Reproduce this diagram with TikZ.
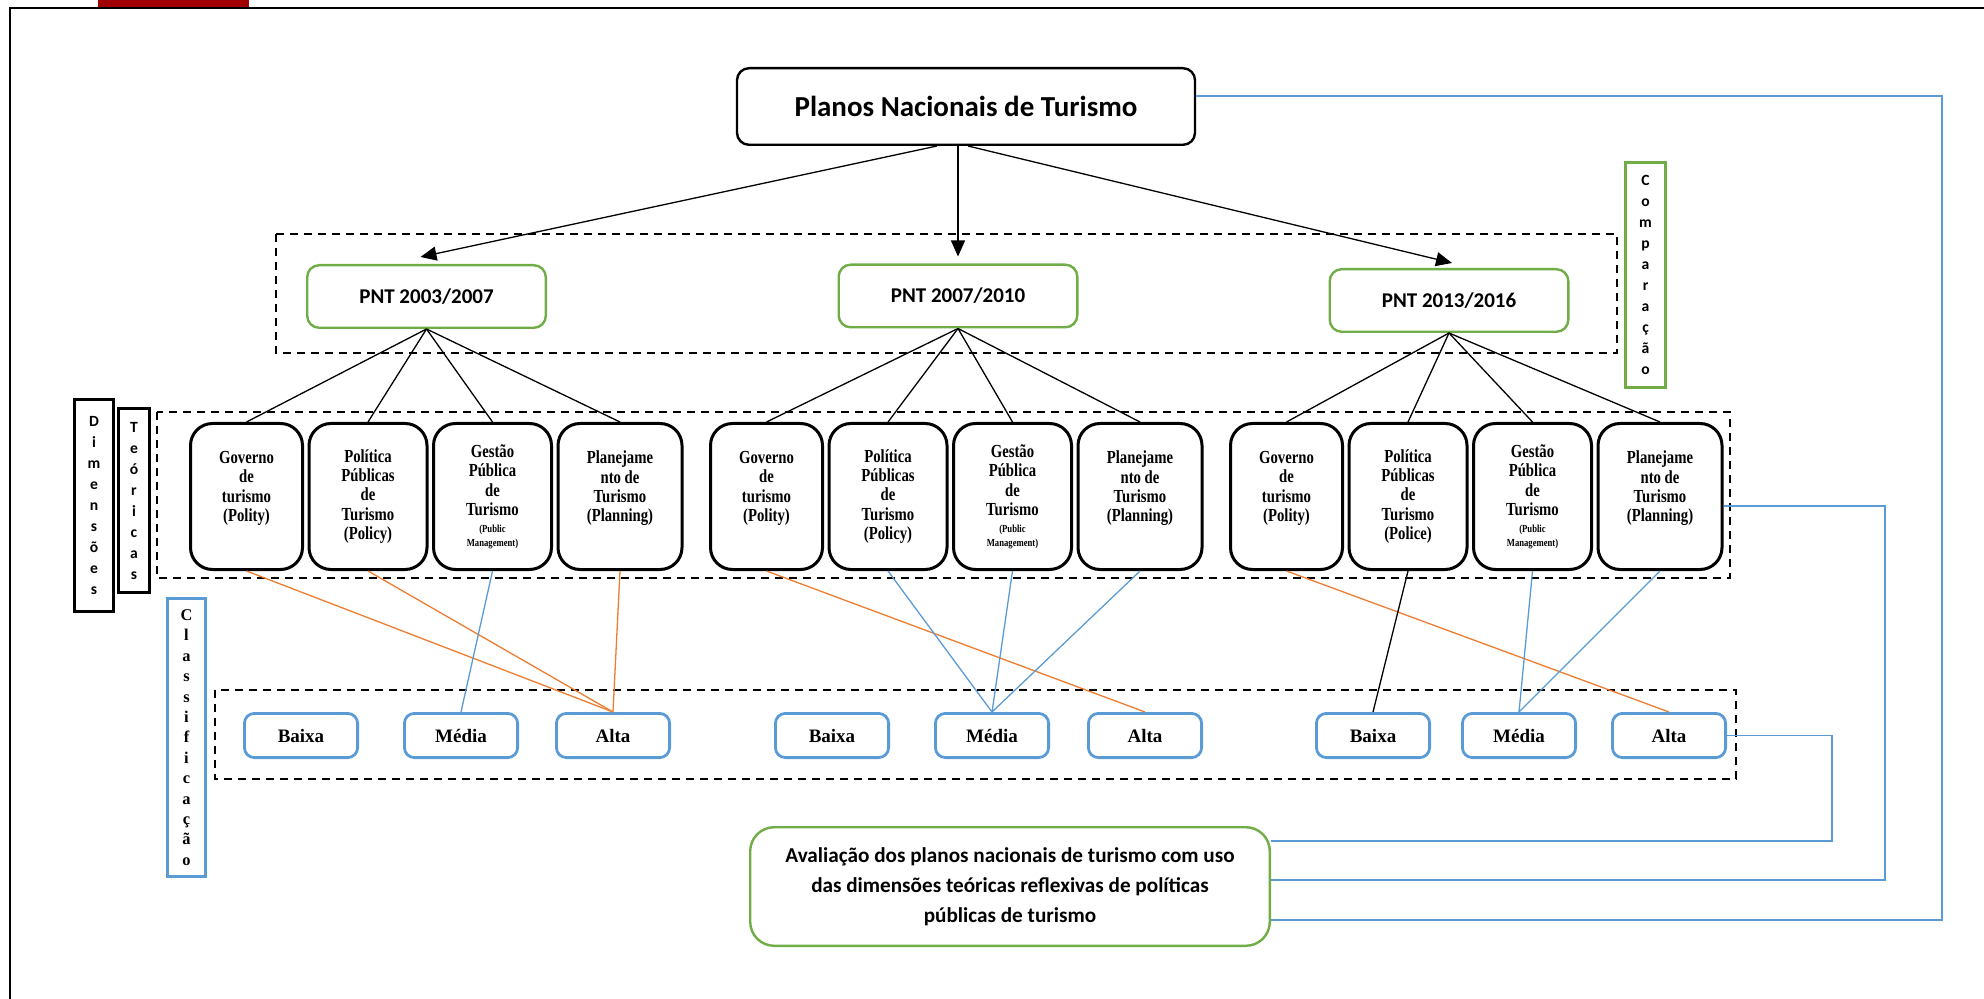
\documentclass[tikz,border=0pt]{standalone}
\usepackage{fontspec}
\setmainfont{Liberation Serif}
\newfontfamily\calibri{Carlito}
\newfontfamily\estreita[FakeStretch=0.8]{Liberation Serif}
\usetikzlibrary{arrows.meta,positioning}
\definecolor{verde}{HTML}{70AD47}
\definecolor{azul}{HTML}{5B9BD5}
\definecolor{laranja}{HTML}{ED7D31}
\definecolor{vinho}{HTML}{A00000}
\newcommand{\gestao}{\fontsize{5.4}{6.5}\selectfont}
\tikzset{
    plano/.style={draw, rounded corners=6pt, line width=1.2pt,
            minimum width=229pt, minimum height=38.3pt,
            font=\calibri\bfseries\fontsize{14.5}{16}\selectfont},
    pnt/.style={draw=verde, rounded corners=6pt, line width=1.2pt,
            minimum width=119.3pt, minimum height=31.3pt,
            font=\calibri\bfseries\fontsize{10.5}{12}\selectfont},
    dimensao/.style={draw, rounded corners=11pt, line width=1.5pt,
            minimum height=73pt, align=center, inner sep=1pt,
            font=\estreita\bfseries\fontsize{9.2}{9.7}\selectfont},
    quatro/.style={text depth=10pt},
    nivel/.style={draw=azul, rounded corners=5pt, line width=1.4pt,
            minimum width=56.6pt, minimum height=22.1pt,
            font=\bfseries\fontsize{9.5}{11}\selectfont},
    avaliacao/.style={draw=verde, rounded corners=12pt, line width=1.2pt,
            minimum width=259.8pt, minimum height=59.3pt, align=center,
            font=\calibri\bfseries\fontsize{10.6}{15}\selectfont},
    vertical/.style={line width=1.5pt, align=center, inner sep=0pt,
            font=\calibri\bfseries\fontsize{7.8}{10.5}\selectfont},
    tracejado/.style={dash pattern=on 4pt off 3pt, line width=1pt},
    ligacao/.style={line width=0.65pt},
    seta/.style={line width=0.65pt, -{Triangle[length=8pt,width=7pt]}},
}

\begin{document}
\begin{tikzpicture}[x=0.5pt,y=-0.5pt]
\useasboundingbox (0,0) rectangle (1984,999);
\fill[vinho] (98,0) rectangle (249,8);
\draw[line width=1pt] (10,999) -- (10,8) -- (1984,8);

\node[plano] (planos) at (966,106.5) {Planos Nacionais de Turismo};

\draw[tracejado] (276,234) rectangle (1617,353);
\node[pnt] (pnt1) at (426.5,296.5) {PNT 2003/2007};
\node[pnt] (pnt2) at (958,296) {PNT 2007/2010};
\node[pnt] (pnt3) at (1449,300.5) {PNT 2013/2016};
\node[vertical, draw=verde, minimum width=20pt, minimum height=112.5pt] (comp) at (1645.5,275)
    {C\\o\\m\\p\\a\\r\\a\\ç\\ã\\o};

\draw[seta] ([xshift=-14.5pt]planos.south) -- ([xshift=-3pt,yshift=3.5pt]pnt1.north);
\draw[seta] ([xshift=-4pt]planos.south) -- ([yshift=3.5pt]pnt2.north);
\draw[seta] ([xshift=1pt]planos.south) -- ([xshift=1.5pt,yshift=2.5pt]pnt3.north);

\node[vertical, draw, minimum width=19.5pt, minimum height=106pt] (dim) at (94,505.5)
    {D\\i\\m\\e\\n\\s\\õ\\e\\s};
\node[vertical, draw, minimum width=15.5pt, minimum height=92pt] (teo) at (134,500.5)
    {T\\e\\ó\\r\\i\\c\\a\\s};
\draw[tracejado] (157,412) rectangle (1730,578);

\node[dimensao, quatro, minimum width=56pt, anchor=west] (gov1) at (189,496.5) {Governo\\de\\turismo\\(Polity)};
\node[dimensao, minimum width=59pt, right=1.75pt of gov1] (pol1) {Política\\Públicas\\de\\Turismo\\(Policy)};
\node[dimensao, minimum width=59pt, right=1.75pt of pol1] (ges1) {Gestão\\Pública\\de\\Turismo\\[-1pt]{\gestao (Public}\\[-3pt]{\gestao Management)}};
\node[dimensao, quatro, minimum width=62pt, right=1.75pt of ges1] (pla1) {Planejame\\nto de\\Turismo\\(Planning)};

\node[dimensao, quatro, minimum width=56pt, anchor=west] (gov2) at (709,496.5) {Governo\\de\\turismo\\(Polity)};
\node[dimensao, minimum width=59pt, right=1.75pt of gov2] (pol2) {Política\\Públicas\\de\\Turismo\\(Policy)};
\node[dimensao, minimum width=59pt, right=1.75pt of pol2] (ges2) {Gestão\\Pública\\de\\Turismo\\[-1pt]{\gestao (Public}\\[-3pt]{\gestao Management)}};
\node[dimensao, quatro, minimum width=62pt, right=1.75pt of ges2] (pla2) {Planejame\\nto de\\Turismo\\(Planning)};

\node[dimensao, quatro, minimum width=56pt, anchor=west] (gov3) at (1229,496.5) {Governo\\de\\turismo\\(Polity)};
\node[dimensao, minimum width=59pt, right=1.75pt of gov3] (pol3) {Política\\Públicas\\de\\Turismo\\(Police)};
\node[dimensao, minimum width=59pt, right=1.75pt of pol3] (ges3) {Gestão\\Pública\\de\\Turismo\\[-1pt]{\gestao (Public}\\[-3pt]{\gestao Management)}};
\node[dimensao, quatro, minimum width=62pt, right=1.75pt of ges3] (pla3) {Planejame\\nto de\\Turismo\\(Planning)};

\draw[ligacao] (pnt1.south) -- (gov1.north);
\draw[ligacao] (pnt1.south) -- (pol1.north);
\draw[ligacao] (pnt1.south) -- (ges1.north);
\draw[ligacao] (pnt1.south) -- (pla1.north);
\draw[ligacao] (pnt2.south) -- (gov2.north);
\draw[ligacao] (pnt2.south) -- (pol2.north);
\draw[ligacao] (pnt2.south) -- (ges2.north);
\draw[ligacao] (pnt2.south) -- (pla2.north);
\draw[ligacao] (pnt3.south) -- (gov3.north);
\draw[ligacao] (pnt3.south) -- (pol3.north);
\draw[ligacao] (pnt3.south) -- (ges3.north);
\draw[ligacao] (pnt3.south) -- (pla3.north);

\node[vertical, draw=azul, minimum width=19pt, minimum height=139pt,
    font=\bfseries\fontsize{8.2}{10.2}\selectfont] (clas) at (186.5,737.5)
    {C\\l\\a\\s\\s\\i\\f\\i\\c\\a\\ç\\ã\\o};
\draw[tracejado] (215,690) rectangle (1736,779);

\node[nivel] (bai1) at (301,735.5) {Baixa};
\node[nivel] (med1) at (461,735.5) {Média};
\node[nivel] (alt1) at (613,735.5) {Alta};
\node[nivel] (bai2) at (832,735.5) {Baixa};
\node[nivel] (med2) at (992,735.5) {Média};
\node[nivel] (alt2) at (1145,735.5) {Alta};
\node[nivel] (bai3) at (1373,735.5) {Baixa};
\node[nivel] (med3) at (1519,735.5) {Média};
\node[nivel] (alt3) at (1669,735.5) {Alta};

\draw[ligacao, laranja] (gov1.south) -- (alt1.north);
\draw[ligacao, laranja] (pol1.south) -- (alt1.north);
\draw[ligacao, azul] (ges1.south) -- (med1.north);
\draw[ligacao, laranja] (pla1.south) -- (alt1.north);
\draw[ligacao, laranja] (gov2.south) -- (alt2.north);
\draw[ligacao, azul] (pol2.south) -- (med2.north);
\draw[ligacao, azul] (ges2.south) -- (med2.north);
\draw[ligacao, azul] (pla2.south) -- (med2.north);
\draw[ligacao, laranja] (gov3.south) -- (alt3.north);
\draw[ligacao] (pol3.south) -- (bai3.north);
\draw[ligacao, azul] (ges3.south) -- (med3.north);
\draw[ligacao, azul] (pla3.south) -- (med3.north);

\node[avaliacao] (aval) at (1010,886.5)
    {Avaliação dos planos nacionais de turismo com uso\\das dimensões teóricas reflexivas de políticas\\públicas de turismo};

\coordinate (dobra1) at (1942,920);
\coordinate (dobra2) at (1885,880);
\coordinate (dobra3) at (1832,841);
\draw[ligacao, azul] ([yshift=5.25pt]planos.east) -| (dobra1) -- ([yshift=-16.75pt]aval.east);
\draw[ligacao, azul] ([yshift=-4.75pt]pla3.east) -| (dobra2) -- ([yshift=3.25pt]aval.east);
\draw[ligacao, azul] (alt3.east) -| (dobra3) -- ([yshift=22.75pt]aval.east);
\end{tikzpicture}
\end{document}
